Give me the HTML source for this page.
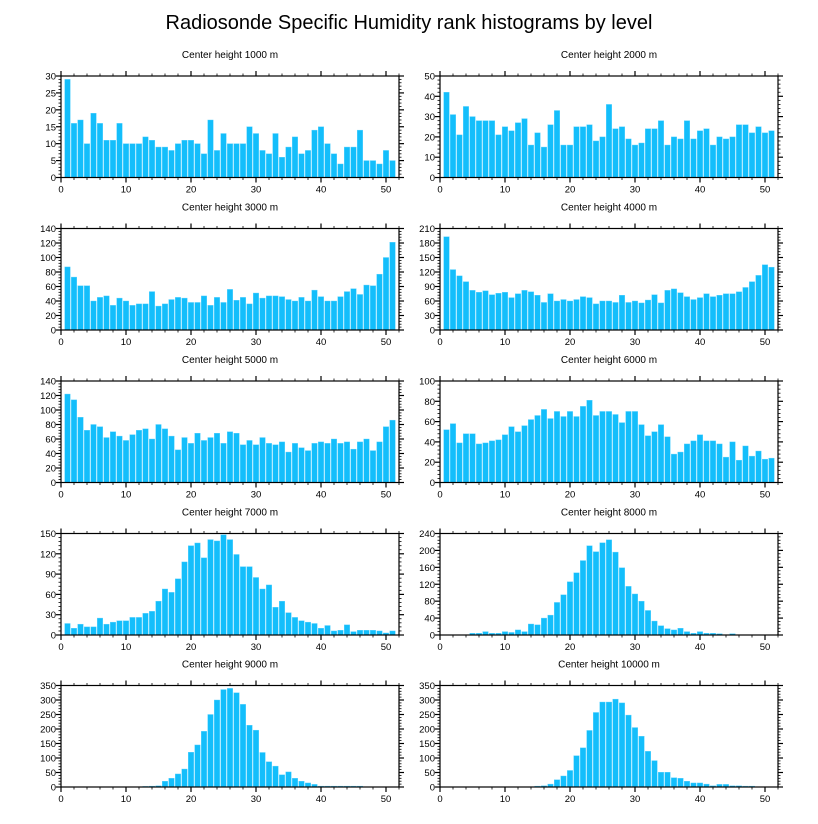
<!DOCTYPE html>
<html><head><meta charset="utf-8"><style>
html,body{margin:0;padding:0;background:#fff;}
svg{display:block;font-family:"Liberation Sans",sans-serif;}
</style></head><body>
<svg id="chart" width="818" height="824" viewBox="0 0 818 824" xmlns="http://www.w3.org/2000/svg">
<text x="409" y="29" font-size="20" text-anchor="middle">Radiosonde Specific Humidity rank histograms by level</text>
</svg>
<script>
const levels = ["1000","2000","3000","4000","5000","6000","7000","8000","9000","10000"];
const yMaxes = [30,50,140,210,140,100,150,240,350,350];
const ySteps = [5,10,20,30,20,20,30,40,50,50];
const xTicks = [0,10,20,30,40,50];
const h1000 = [29,16,17,10,19,16,11,11,16,10,10,10,12,11,9,9,8,10,11,11,10,7,17,8,13,10,10,10,15,13,8,7,13,6,9,12,7,8,14,15,10,7,4,9,9,14,5,5,4,8,5];
const h2000 = [42,31,21,35,30,28,28,28,21,25,23,27,29,16,22,15,26,33,16,16,25,25,26,18,20,36,24,25,19,16,17,24,24,28,16,20,19,28,19,23,24,16,20,19,20,26,26,22,25,22,23];
const h3000 = [87,73,61,61,40,45,47,34,44,40,34,36,36,53,33,36,42,45,44,38,38,47,34,45,38,56,41,45,36,51,44,47,47,46,42,40,45,40,55,46,40,40,46,53,57,49,62,61,77,100,121];
const h4000 = [193,125,112,100,82,78,81,73,76,78,67,75,82,79,72,57,75,60,63,60,63,69,67,54,60,60,57,72,57,60,56,62,73,56,82,85,77,69,63,67,75,69,72,75,75,79,88,100,113,135,130];
const h5000 = [122,114,90,72,80,77,62,70,64,58,66,72,74,60,80,74,64,45,62,54,68,58,62,68,54,70,68,52,58,52,62,54,52,56,42,54,48,44,54,56,54,60,54,56,46,56,60,44,56,77,86];
const h6000 = [52,58,39,48,48,38,39,41,42,47,55,50,56,62,66,72,63,70,65,70,65,75,81,66,70,70,67,59,70,70,57,46,50,57,45,28,30,38,41,47,41,41,38,25,40,22,36,26,31,23,24];
const h7000 = [17,10,16,12,12,25,16,19,21,21,26,26,32,35,50,68,63,83,108,132,136,114,141,139,148,141,119,101,101,85,68,74,41,50,33,26,21,19,17,10,14,6,7,15,5,7,7,7,6,3,6];
const h8000 = [0,0,0,0,4,4,8,4,4,8,6,12,8,26,24,40,47,77,95,126,147,176,211,197,218,225,196,159,115,97,80,58,33,22,15,12,16,8,4,8,4,4,3,0,3,0,0,0,0,0,0];
const h9000 = [0,0,0,0,0,1,0,0,0,1,0,1,2,3,4,20,30,45,62,120,145,192,250,300,336,340,325,285,213,196,119,87,72,42,52,30,20,14,9,3,3,3,3,3,3,3,0,1,0,1,0];
const h10000 = [0,0,0,0,0,0,0,0,0,0,0,0,0,0,3,4,10,25,38,57,108,135,195,257,293,293,303,290,248,205,175,123,91,51,51,32,30,20,14,14,10,4,9,9,4,4,3,3,0,0,0];
const series = [h1000,h2000,h3000,h4000,h5000,h6000,h7000,h8000,h9000,h10000];

const NS = "http://www.w3.org/2000/svg";
const svg = document.getElementById("chart");
function mk(tag, attrs, parent) {
  const e = document.createElementNS(NS, tag);
  for (const k in attrs) e.setAttribute(k, attrs[k]);
  parent.appendChild(e);
  return e;
}
const colX = [61, 440], W = 338, H = 101.5;
const rowY = [76, 228.5, 381, 533.5, 685.5];
const XMAX = 52;

series.forEach((vals, p) => {
  const left = colX[p % 2], top = rowY[Math.floor(p / 2)];
  const bottom = top + H, right = left + W;
  const g = mk("g", {}, svg);
  
  
  const xs = v => left + v / XMAX * W;
  const ys = v => bottom - v / yMaxes[p] * H;
  const t = mk("text", {x: left + W / 2, y: top - 18, "font-size": 10, "text-anchor": "middle"}, g);
  t.textContent = "Center height " + levels[p] + " m";
  
  
  vals.forEach((v, i) => {
    if (v <= 0) return;
    const c = i + 1;
    const r = mk("rect", {x: xs(c - 0.43), y: ys(v), width: xs(0.86) - left, height: bottom - ys(v), fill: "#13befb", stroke: "#5fd3ff", "stroke-width": 0.4}, g);
    
    
  });
  // frame
  const fr = mk("rect", {x: left, y: top, width: W, height: H, fill: "none", stroke: "#000", "stroke-width": 1.2}, g);
  
  
  // x ticks
  for (let v = 0; v <= XMAX; v += 2) {
    const major = v % 10 === 0, L = major ? 5 : 2.5;
    mk("line", {x1: xs(v), x2: xs(v), y1: bottom, y2: bottom + L, stroke: "#000", "stroke-width": major ? 1.2 : 0.8}, g);
    mk("line", {x1: xs(v), x2: xs(v), y1: top, y2: top - L, stroke: "#000", "stroke-width": major ? 1.2 : 0.8}, g);
  }
  xTicks.forEach(v => {
    const lt = mk("text", {x: xs(v), y: bottom + 15, "font-size": 9.5, "text-anchor": "middle"}, g);
    lt.textContent = v;
    
    
  });
  // y ticks
  const step = ySteps[p], minor = step / 5;
  for (let v = 0; v <= yMaxes[p] + 1e-9; v += minor) {
    const major = Math.abs(v / step - Math.round(v / step)) < 1e-6, L = major ? 5 : 2.5;
    mk("line", {x1: left, x2: left - L, y1: ys(v), y2: ys(v), stroke: "#000", "stroke-width": major ? 1.2 : 0.8}, g);
    mk("line", {x1: right, x2: right + L, y1: ys(v), y2: ys(v), stroke: "#000", "stroke-width": major ? 1.2 : 0.8}, g);
  }
  for (let v = 0; v <= yMaxes[p]; v += step) {
    const lt = mk("text", {x: left - 5, y: ys(v) + 3.5, "font-size": 9.5, "text-anchor": "end"}, g);
    lt.textContent = v;
    
    
  }
});
</script>
</body></html>
